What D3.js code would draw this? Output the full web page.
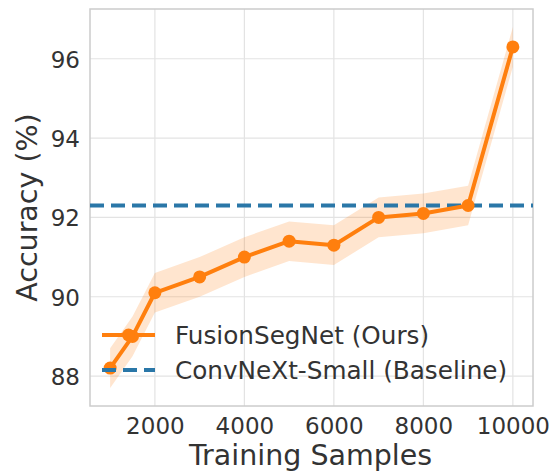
<!DOCTYPE html>
<html>
<head>
<meta charset="utf-8">
<script src="https://cdn.jsdelivr.net/npm/d3@7"></script>
<style>
  html, body { margin: 0; padding: 0; background: #fff; }
  svg { display: block; font-family: "DejaVu Sans", sans-serif; }
</style>
</head>
<body>
<svg id="chart" width="550" height="473"></svg>
<script>
// Accuracy vs. number of training samples
const samples = [1000, 1500, 2000, 3000, 4000, 5000, 6000, 7000, 8000, 9000, 10000];
const accuracy = [88.2, 89.0, 90.1, 90.5, 91.0, 91.4, 91.3, 92.0, 92.1, 92.3, 96.3];
const spread = [0.5, 0.5, 0.5, 0.5, 0.5, 0.5, 0.5, 0.5, 0.5, 0.5, 0.5];
const baselineAcc = 92.3;
const xTicks = [2000, 4000, 6000, 8000, 10000];
const yTicks = [88, 90, 92, 94, 96];
const seriesNames = ["FusionSegNet (Ours)", "ConvNeXt-Small (Baseline)"];

const W = 550, H = 473;
const margin = { top: 9, right: 17, bottom: 67, left: 90 };
const iw = W - margin.left - margin.right;
const ih = H - margin.top - margin.bottom;

const orange = "#ff7f0e", blue = "#2a77a8", textCol = "#333333";

const svg = d3.select("#chart");
const g = svg.append("g").attr("transform", `translate(${margin.left},${margin.top})`);

// 5% padding around the data range, as in the usual auto-limits
const xMin = d3.min(samples), xMax = d3.max(samples);
const xPad = (xMax - xMin) * 0.05;
const lo = d3.min(accuracy.map((v, i) => v - spread[i]));
const hi = d3.max(accuracy.map((v, i) => v + spread[i]));
const yPad = (hi - lo) * 0.05;

const x = d3.scaleLinear().domain([xMin - xPad, xMax + xPad]).range([0, iw]);
const y = d3.scaleLinear().domain([lo - yPad, hi + yPad]).range([ih, 0]);

// grid
g.append("g").selectAll("line").data(xTicks).join("line")
  .attr("x1", d => x(d)).attr("x2", d => x(d)).attr("y1", 0).attr("y2", ih)
  .attr("stroke", "#e3e3e3").attr("stroke-width", 1.2);
g.append("g").selectAll("line").data(yTicks).join("line")
  .attr("y1", d => y(d)).attr("y2", d => y(d)).attr("x1", 0).attr("x2", iw)
  .attr("stroke", "#e3e3e3").attr("stroke-width", 1.2);

// axes (labels only, no tick marks)
const xAxis = g.append("g").attr("transform", `translate(0,${ih})`)
  .call(d3.axisBottom(x).tickValues(xTicks).tickSize(0).tickPadding(12).tickFormat(d3.format("d")));
const yAxis = g.append("g")
  .call(d3.axisLeft(y).tickValues(yTicks).tickSize(0).tickPadding(10).tickFormat(d3.format("d")));
[xAxis, yAxis].forEach(a => {
  a.select(".domain").remove();
  a.selectAll("text").attr("fill", textCol).style("font-size", "23px")
    .style("font-family", "'DejaVu Sans', sans-serif");
});
yAxis.selectAll("text").attr("dy", "0.36em");

// frame
g.append("rect").attr("x", 0).attr("y", 0).attr("width", iw).attr("height", ih)
  .attr("fill", "none").attr("stroke", "#cccccc").attr("stroke-width", 1.5);

// confidence band
const data = samples.map((s, i) => ({ s, v: accuracy[i], e: spread[i] }));
g.append("path").datum(data)
  .attr("d", d3.area().x(d => x(d.s)).y0(d => y(d.v - d.e)).y1(d => y(d.v + d.e)))
  .attr("fill", orange).attr("fill-opacity", 0.2);

// baseline
g.append("line").attr("x1", 0).attr("x2", iw)
  .attr("y1", y(baselineAcc)).attr("y2", y(baselineAcc))
  .attr("stroke", blue).attr("stroke-width", 4).attr("stroke-dasharray", "14,7");

// main series
g.append("path").datum(data)
  .attr("d", d3.line().x(d => x(d.s)).y(d => y(d.v)))
  .attr("fill", "none").attr("stroke", orange).attr("stroke-width", 4)
  .attr("stroke-linejoin", "round");
g.append("g").selectAll("circle").data(data).join("circle")
  .attr("cx", d => x(d.s)).attr("cy", d => y(d.v)).attr("r", 6.5)
  .attr("fill", orange);

// legend
const leg = g.append("g").attr("transform", `translate(12,${326 - margin.top})`);
const rowH = 35;
leg.append("line").attr("x1", 0).attr("x2", 53).attr("y1", 9).attr("y2", 9)
  .attr("stroke", orange).attr("stroke-width", 4);
leg.append("circle").attr("cx", 26.5).attr("cy", 9).attr("r", 6.5).attr("fill", orange);
leg.append("line").attr("x1", 0).attr("x2", 53).attr("y1", 9 + rowH).attr("y2", 9 + rowH)
  .attr("stroke", blue).attr("stroke-width", 4).attr("stroke-dasharray", "14,7");
seriesNames.forEach((name, i) => {
  leg.append("text").attr("x", 73).attr("y", 9 + i * rowH).attr("dy", "0.36em")
    .attr("fill", textCol).style("font-size", "24.7px").text(name);
});

// axis titles
svg.append("text").attr("x", margin.left + iw / 2 - 1).attr("y", 465)
  .attr("text-anchor", "middle").attr("fill", textCol).style("font-size", "28.5px")
  .text("Training Samples");
svg.append("text")
  .attr("transform", `translate(37,${margin.top + ih / 2}) rotate(-90)`)
  .attr("text-anchor", "middle").attr("fill", textCol).style("font-size", "28.5px")
  .text("Accuracy (%)");
</script>
</body>
</html>
